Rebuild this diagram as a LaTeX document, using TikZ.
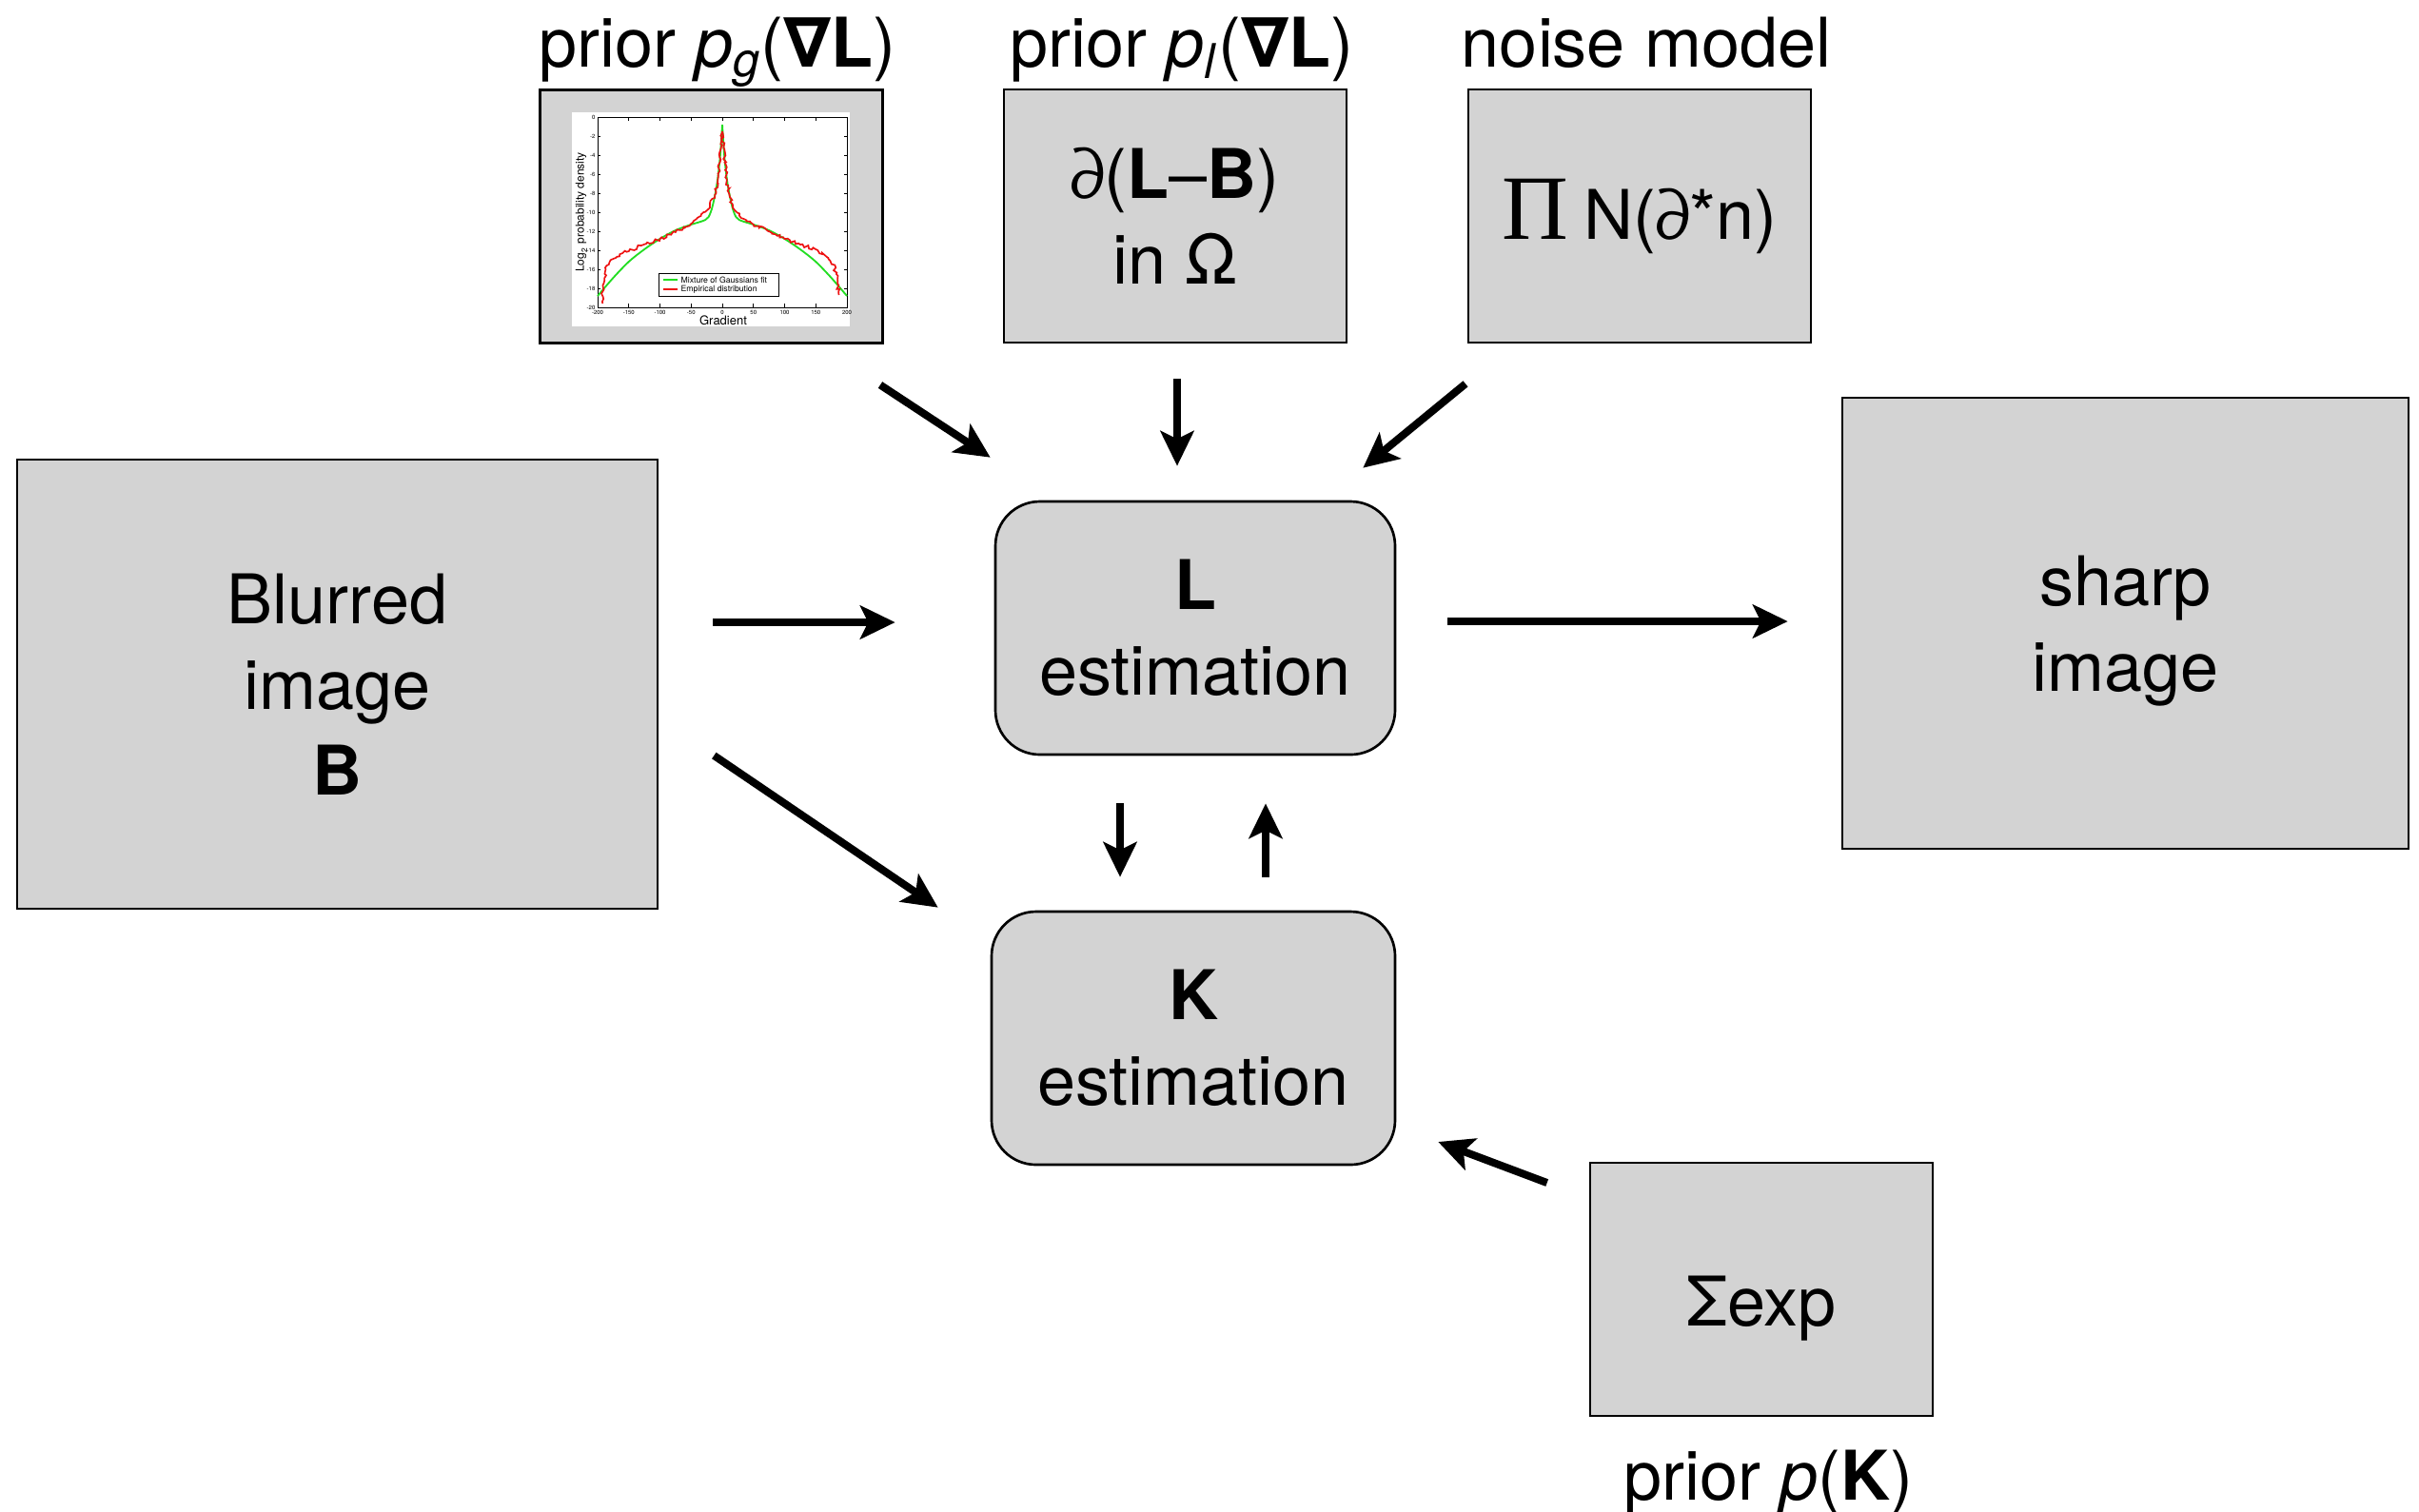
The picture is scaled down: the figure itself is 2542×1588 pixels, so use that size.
\documentclass[tikz,border=0pt]{standalone}
\usepackage{fontspec}
\setmainfont{TeX Gyre Heros}
\newfontfamily\dejavu{DejaVu Sans}
\newfontfamily\timesgreek{Liberation Serif}
\usetikzlibrary{arrows.meta,decorations.pathmorphing}
\definecolor{boxgray}{HTML}{D3D3D3}
\definecolor{plotgreen}{HTML}{22DD22}
\definecolor{plotred}{HTML}{EE1111}
\newcommand{\mainsize}{\fontsize{21.6}{27}\selectfont}
\newcommand{\nablaB}{{\dejavu\bfseries ∇}}
\newcommand{\lowerby}[2]{\raisebox{-#1}[\height][\depth]{#2}}
\begin{document}
\begin{tikzpicture}[x=0.3pt,y=-0.3pt,
  gbox/.style={draw=black, fill=boxgray, line width=0.8pt, inner sep=0pt, align=center, font=\mainsize},
  rbox/.style={gbox, rounded corners=14pt},
  lbl/.style={font=\mainsize, inner sep=0pt, anchor=base},
  arr/.style={line width=2.4pt, -{Stealth[length=11pt,width=10.5pt,inset=2.5pt]}},
  tick/.style={font=\fontsize{1.8}{2}\selectfont, inner sep=0.4pt},
  legtext/.style={font=\fontsize{2.6}{3}\selectfont, inner sep=0pt, anchor=west},
  redcurve/.style={plotred, line width=0.5pt, decorate, decoration={random steps, segment length=0.7pt, amplitude=0.5pt}}]
\useasboundingbox (0,0) rectangle (2542,1588);
\pgfmathsetseed{7}

% ---- top boxes
\node[gbox, line width=0.9pt, minimum width=108pt, minimum height=79.8pt] (pg) at (747,227) {};
\node[gbox, minimum width=108pt, minimum height=79.8pt] (pl) at (1235,227) {∂(\textbf{L}–\textbf{B})\\in Ω};
\node[gbox, minimum width=108pt, minimum height=79.8pt] (nm) at (1723,227) {{\timesgreek\fontsize{29}{29}\selectfont Π}\hspace{5pt}N(∂*n)};

\node[lbl] (pgl) at (754,70) {prior \textit{p}\textsubscript{\textit{g}}(\nablaB\textbf{L})};
\node[lbl] (pll) at (1242,70) {prior \textit{p}\textsubscript{\textit{l}}(\nablaB\textbf{L})};
\node[lbl] (nml) at (1730,70) {noise model};

% ---- plot inside pg
\fill[white] (601,118) rectangle (893,343);
\begin{scope}[shift={(759,123)}, xscale=0.655, yscale=-10]
  \draw[line width=0.25pt] (-200,0) rectangle (200,-20);
  \foreach \v in {0,-2,...,-20} {
    \draw[line width=0.2pt] (-200,\v) -- ++(4,0);
    \draw[line width=0.2pt] (200,\v) -- ++(-4,0);
    \node[tick, anchor=east] at (-201,\v) {\v};
  }
  \foreach \v in {-200,-150,...,200} {
    \draw[line width=0.2pt] (\v,-20) -- ++(0,0.4);
    \draw[line width=0.2pt] (\v,0) -- ++(0,-0.4);
    \node[tick, anchor=north] at (\v,-20.1) {\v};
  }
  \draw[plotgreen, line width=0.55pt] plot[smooth, tension=0.5] coordinates {
    (-200,-18.8) (-175,-16.9) (-150,-15.2) (-125,-13.9) (-100,-12.8) (-75,-11.9)
    (-50,-11.3) (-35,-11.0) (-27,-10.8) (-22,-10.5) (-17,-9.7) (-12,-8.3)
    (-8,-6.8) (-5,-5.2) (-3,-3.8) (-1.5,-2.4) (0,-0.8)};
  \draw[plotgreen, line width=0.55pt] plot[smooth, tension=0.5] coordinates {
    (0,-0.8) (1.5,-2.4) (3,-3.8) (5,-5.2) (8,-6.8) (12,-8.3) (17,-9.7)
    (22,-10.5) (27,-10.8) (35,-11.0) (50,-11.3) (75,-11.9) (100,-12.8)
    (125,-13.9) (150,-15.2) (175,-16.9) (200,-18.8)};
\end{scope}
\draw[redcurve] (633.2,319) -- (633.9,303) -- (635.2,295) -- (636.5,283) -- (639.8,278)
  -- (644.4,272) -- (654.2,266) -- (660.8,264) -- (673.9,258) -- (687.0,254)
  -- (693.5,251) -- (709.9,244) -- (726.3,235) -- (732.8,229) -- (739.4,223)
  -- (745.9,216) -- (751.1,205) -- (754.4,188) -- (756.4,171) -- (757.7,155) -- (759,138);
\draw[redcurve] (759,138) -- (760.3,155) -- (761.6,171) -- (763.6,188) -- (766.9,207)
  -- (772.1,221) -- (778.7,229) -- (791.8,236) -- (808.1,243) -- (824.5,251)
  -- (840.9,257) -- (857.3,262) -- (870.4,271) -- (875.6,278) -- (878.9,288)
  -- (880.2,298) -- (881.5,310);
\draw[line width=0.3pt, fill=white] (692,287) rectangle (818,311);
\draw[plotgreen, line width=0.5pt] (697,294) -- (712,294);
\node[legtext] (lg1) at (715,294) {Mixture of Gaussians fit};
\draw[plotred, line width=0.5pt] (697,304) -- (712,304);
\node[legtext] (lg2) at (715,304) {Empirical distribution};
\node[rotate=90, font=\fontsize{3.6}{4}\selectfont, inner sep=0pt] (ylab) at (611,223) {Log\textsubscript{2} probability density};
\node[font=\fontsize{3.9}{4}\selectfont, inner sep=0pt] (xlab) at (760,337) {Gradient};

% ---- main boxes
\node[gbox, minimum width=201.9pt, minimum height=141.6pt] (B) at (354.5,719) {Blurred\\image\\\textbf{B}};
\node[gbox, minimum width=178.5pt, minimum height=142.2pt] (S) at (2233.5,655) {\lowerby{2.4pt}{sharp}\\\lowerby{2.4pt}{image}};
\node[rbox, minimum width=126pt, minimum height=79.8pt] (L) at (1256,660) {\textbf{L}\\estimation};
\node[rbox, minimum width=127.2pt, minimum height=79.8pt] (K) at (1254,1091) {\textbf{K}\\estimation};
\node[gbox, minimum width=108pt, minimum height=79.8pt] (P) at (1851,1355) {\lowerby{6pt}{Σexp}};
\node[lbl] (pkl) at (1858,1576) {prior \textit{p}(\textbf{K})};

% ---- arrows
\draw[arr] ([shift={(178,43)}]pg.south) -- ([shift={(-4,-45)}]L.north west);
\draw[arr] ([shift={(2,37)}]pl.south) -- ([shift={(-19,-36)}]L.north);
\draw[arr] ([shift={(-183,42)}]nm.south) -- ([shift={(-35,-34)}]L.north east);
\draw[arr] ([shift={(57,-65)}]B.east) -- ([shift={(-104,-6)}]L.west);
\draw[arr] ([shift={(58,75)}]B.east) -- ([shift={(-55,-3)}]K.north west);
\draw[arr] ([shift={(54,-7)}]L.east) -- ([shift={(-56,-2)}]S.west);
\draw[arr] ([shift={(-79,50)}]L.south) -- ([shift={(-77,-35)}]K.north);
\draw[arr] ([shift={(76,-35)}]K.north) -- ([shift={(74,50)}]L.south);
\draw[arr] ([shift={(-44,-112)}]P.west) -- ([shift={(44,109)}]K.east);
\end{tikzpicture}
\end{document}
